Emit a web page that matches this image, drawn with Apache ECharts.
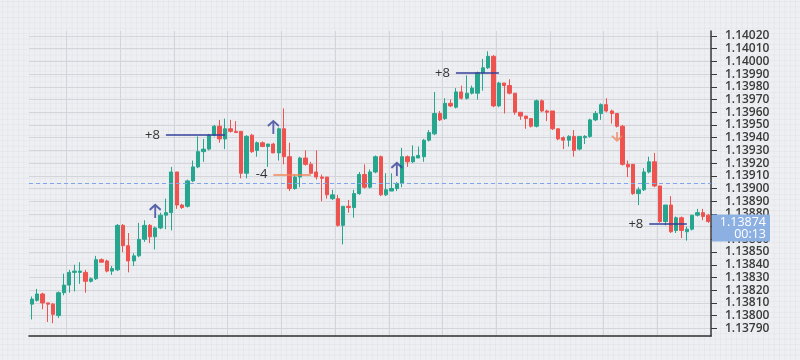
<!DOCTYPE html>
<html><head><meta charset="utf-8">
<script src="https://cdn.jsdelivr.net/npm/echarts@6/dist/echarts.min.js"></script>
<style>
html,body{margin:0;padding:0;}
body{width:800px;height:360px;background-color:#eeeff2;
background-image:linear-gradient(to right, rgba(70,80,100,0.045) 1px, transparent 1px), linear-gradient(to bottom, rgba(70,80,100,0.045) 1px, transparent 1px);
background-size:5.37px 5.37px;background-position:2px 1px;}
#chart{width:800px;height:360px;}
</style></head><body><div id="chart"></div>
<script>
// ---- data (candles) ----
const open = [1.13809,1.13812,1.13817,1.13810,1.13809,1.13800,1.13818,1.13824,1.13834,1.13834,
1.13834,1.13827,1.13829,1.13844,1.13843,1.13835,1.13836,1.13871,1.13855,1.13843,
1.13847,1.13860,1.13871,1.13862,1.13869,1.13879,1.13881,1.13913,1.13887,1.13886,
1.13906,1.13917,1.13929,1.13931,1.13942,1.13949,1.13939,1.13947,1.13945,1.13945,
1.13912,1.13942,1.13930,1.13936,1.13933,1.13935,1.13928,1.13947,1.13925,1.13900,
1.13909,1.13924,1.13919,1.13913,1.13909,1.13909,1.13892,1.13892,1.13871,1.13886,
1.13885,1.13896,1.13911,1.13901,1.13913,1.13925,1.13895,1.13898,1.13900,1.13904,
1.13925,1.13921,1.13924,1.13925,1.13938,1.13943,1.13959,1.13955,1.13967,1.13964,
1.13976,1.13971,1.13975,1.13975,1.13991,1.13995,1.14004,1.13965,1.13983,1.13981,
1.13975,1.13960,1.13957,1.13955,1.13949,1.13969,1.13961,1.13961,1.13947,1.13940,
1.13938,1.13941,1.13931,1.13940,1.13941,1.13954,1.13959,1.13966,1.13961,1.13959,
1.13949,1.13919,1.13919,1.13896,1.13899,1.13913,1.13921,1.13902,1.13874,1.13887,
1.13867,1.13877,1.13866,1.13868,1.13879,1.13881,1.13879];
const close = [1.13813,1.13817,1.13810,1.13809,1.13801,1.13818,1.13824,1.13834,1.13835,1.13835,
1.13827,1.13829,1.13844,1.13842,1.13835,1.13837,1.13871,1.13855,1.13843,1.13847,
1.13860,1.13871,1.13862,1.13869,1.13879,1.13881,1.13913,1.13887,1.13885,1.13906,
1.13917,1.13929,1.13931,1.13942,1.13949,1.13939,1.13947,1.13945,1.13944,1.13912,
1.13941,1.13929,1.13936,1.13933,1.13935,1.13928,1.13947,1.13925,1.13900,1.13909,
1.13924,1.13919,1.13912,1.13909,1.13908,1.13895,1.13895,1.13871,1.13886,1.13885,
1.13896,1.13911,1.13901,1.13913,1.13925,1.13895,1.13899,1.13900,1.13904,1.13925,
1.13921,1.13925,1.13926,1.13938,1.13944,1.13959,1.13954,1.13967,1.13965,1.13976,
1.13971,1.13975,1.13979,1.13991,1.13995,1.14004,1.13965,1.13983,1.13981,1.13975,
1.13960,1.13957,1.13955,1.13949,1.13969,1.13961,1.13960,1.13947,1.13939,1.13938,
1.13941,1.13930,1.13941,1.13941,1.13954,1.13959,1.13966,1.13961,1.13959,1.13949,
1.13919,1.13917,1.13896,1.13899,1.13913,1.13921,1.13902,1.13874,1.13887,1.13866,
1.13877,1.13867,1.13868,1.13879,1.13881,1.13878,1.13874];
const low = [1.13797,1.13811,1.13805,1.13795,1.13794,1.13798,1.13816,1.13818,1.13819,1.13825,
1.13818,1.13826,1.13828,1.13842,1.13834,1.13832,1.13835,1.13850,1.13834,1.13839,
1.13846,1.13858,1.13857,1.13852,1.13868,1.13868,1.13867,1.13884,1.13884,1.13885,
1.13905,1.13916,1.13921,1.13930,1.13941,1.13936,1.13931,1.13944,1.13944,1.13908,
1.13908,1.13928,1.13925,1.13933,1.13917,1.13928,1.13922,1.13919,1.13898,1.13899,
1.13901,1.13918,1.13912,1.13907,1.13890,1.13892,1.13891,1.13870,1.13856,1.13881,
1.13877,1.13895,1.13900,1.13900,1.13912,1.13894,1.13894,1.13898,1.13898,1.13901,
1.13917,1.13920,1.13924,1.13921,1.13937,1.13942,1.13953,1.13954,1.13964,1.13963,
1.13970,1.13970,1.13974,1.13970,1.13977,1.13994,1.13964,1.13964,1.13959,1.13974,
1.13958,1.13954,1.13947,1.13948,1.13948,1.13960,1.13953,1.13946,1.13938,1.13931,
1.13933,1.13925,1.13930,1.13935,1.13940,1.13953,1.13954,1.13960,1.13951,1.13948,
1.13918,1.13909,1.13895,1.13887,1.13898,1.13912,1.13901,1.13873,1.13871,1.13865,
1.13865,1.13861,1.13859,1.13867,1.13878,1.13875,1.13873];
const high = [1.13815,1.13821,1.13818,1.13810,1.13810,1.13819,1.13833,1.13836,1.13840,1.13842,
1.13836,1.13830,1.13847,1.13845,1.13844,1.13839,1.13872,1.13872,1.13865,1.13849,
1.13873,1.13875,1.13872,1.13870,1.13881,1.13892,1.13917,1.13913,1.13888,1.13907,
1.13922,1.13941,1.13939,1.13943,1.13950,1.13954,1.13955,1.13954,1.13953,1.13945,
1.13942,1.13943,1.13937,1.13937,1.13935,1.13936,1.13948,1.13963,1.13936,1.13911,
1.13925,1.13930,1.13921,1.13930,1.13911,1.13909,1.13899,1.13895,1.13886,1.13891,
1.13899,1.13913,1.13919,1.13915,1.13926,1.13926,1.13912,1.13912,1.13905,1.13932,
1.13926,1.13934,1.13933,1.13939,1.13946,1.13976,1.13961,1.13971,1.13970,1.13979,
1.13981,1.13989,1.13981,1.13992,1.14002,1.14008,1.14005,1.13984,1.13983,1.13986,
1.13975,1.13960,1.13957,1.13955,1.13970,1.13970,1.13962,1.13961,1.13947,1.13941,
1.13942,1.13946,1.13941,1.13942,1.13955,1.13961,1.13967,1.13971,1.13962,1.13959,
1.13950,1.13922,1.13919,1.13901,1.13916,1.13925,1.13928,1.13902,1.13887,1.13894,
1.13878,1.13878,1.13870,1.13879,1.13884,1.13884,1.13880];
const categories = open.map((_, i) => String(i + 1));

// y axis ticks
const yMin = 1.13790, yMax = 1.14020, yStep = 0.0001;

// trade result lines: start candle, end candle, level, text
const tradeFrom  = [25, 79, 115, 45];
const tradeTo    = [36, 87, 122, 52];
const tradeLevel = [1.13942, 1.13991, 1.13872, 1.13911];
const tradeText  = ['+8', '+8', '+8', '-4'];
const tradeWin   = [true, true, true, false];

// signal arrows
const upIdx = [23, 45, 68];
const upLevel = [1.13882, 1.13948, 1.13915];
const downIdx = [109];
const downLevel = [1.13941];

const refLevel = 1.13904;      // dashed level
const timer = '00:13';

// ---- styles ----
const UP = '#27a68f', DOWN = '#ef5350', NAVY = '#34409a', ORANGE = '#f0875c';
const FONT = "'Open Sans', 'DejaVu Sans', sans-serif";

const chart = echarts.init(document.getElementById('chart'), null, {renderer: 'canvas'});
const last = close.length - 1;

const markData = [
  {yAxis: refLevel, lineStyle: {color: '#7fa6ea', type: [4, 3], width: 1}, label: {show: false}},
  {yAxis: close[last], lineStyle: {color: 'rgba(0,0,0,0)', width: 1},
   label: {show: true, position: 'end', distance: 1,
     formatter: '{e| }\n{a|' + close[last].toFixed(5) + '}\n{b|' + timer + '}',
     rich: {
       e: {height: 13, lineHeight: 13, fontSize: 1},
       a: {width: 50, height: 13, lineHeight: 13, align: 'right', padding: [1, 4, 0, 4], backgroundColor: '#8db0e2', color: '#fff', fontSize: 12.5, fontFamily: FONT},
       b: {width: 50, height: 13, lineHeight: 13, align: 'right', padding: [0, 4, 1, 4], backgroundColor: '#8db0e2', color: '#fff', fontSize: 12.5, fontFamily: FONT}
     }}}
];
tradeFrom.forEach((f, k) => {
  markData.push([
    {coord: [categories[f], tradeLevel[k]],
     lineStyle: {color: tradeWin[k] ? NAVY : ORANGE, width: 1.6, type: 'solid'},
     label: {show: true, position: 'start', distance: 6, formatter: tradeText[k], color: '#333', fontSize: 13, fontFamily: FONT}},
    {coord: [categories[tradeTo[k]], tradeLevel[k]]}
  ]);
});

const option = {
  animation: false,
  grid: [
    {left: 29, right: 89, top: 31, bottom: 24},
    {left: 29, right: 89, top: 36, height: 292.3}
  ],
  xAxis: [
    {type: 'category', gridIndex: 0, data: categories, boundaryGap: true,
     axisLine: {show: true, lineStyle: {color: '#2e2e2e', width: 1.6}},
     axisTick: {show: false}, axisLabel: {show: false},
     splitLine: {show: true, interval: (i) => i % 10 === 7, lineStyle: {color: '#d3d5da', width: 1}}},
    {type: 'category', gridIndex: 1, data: categories, boundaryGap: true, show: false}
  ],
  yAxis: [
    {type: 'value', gridIndex: 0, position: 'right', min: 0, max: 1,
     axisLine: {show: true, lineStyle: {color: '#3a3a3a', width: 1.5}},
     axisTick: {show: false}, axisLabel: {show: false}, splitLine: {show: false}},
    {type: 'value', gridIndex: 1, position: 'right', min: yMin, max: yMax, interval: yStep,
     axisLine: {show: false},
     axisTick: {show: true, length: 6, lineStyle: {color: '#3a3a3a', width: 1}},
     axisLabel: {margin: 14, color: '#3a3a3a', fontSize: 12, fontWeight: 600, fontFamily: FONT,
       formatter: (v) => v.toFixed(5)},
     splitLine: {show: true, lineStyle: {color: '#d3d5da', width: 1}}}
  ],
  series: [
    {type: 'candlestick', xAxisIndex: 1, yAxisIndex: 1,
     data: open.map((o, i) => [o, close[i], low[i], high[i]]),
     barWidth: 3.8,
     itemStyle: {color: UP, color0: DOWN, borderColor: UP, borderColor0: DOWN, borderColorDoji: UP, borderWidth: 1}},
    {type: 'scatter', xAxisIndex: 1, yAxisIndex: 1, silent: true, z: 5,
     data: upIdx.map((x, k) => [categories[x], upLevel[k]]),
     symbol: 'path://M5,0 L5,13 M0,5 L5,0 L10,5', symbolSize: [11, 13],
     itemStyle: {color: 'rgba(0,0,0,0)', borderColor: NAVY, borderWidth: 2},
     markLine: {symbol: ['none', 'none'], silent: true, animation: false, precision: 5, data: markData}},
    {type: 'scatter', xAxisIndex: 1, yAxisIndex: 1, silent: true, z: 5,
     data: downIdx.map((x, k) => [categories[x], downLevel[k]]),
     symbol: 'path://M5,0 L5,9 M0,4 L5,9 L10,4', symbolSize: [10, 9],
     itemStyle: {color: 'rgba(0,0,0,0)', borderColor: ORANGE, borderWidth: 1.7}}
  ]
};
chart.setOption(option);
</script></body></html>
